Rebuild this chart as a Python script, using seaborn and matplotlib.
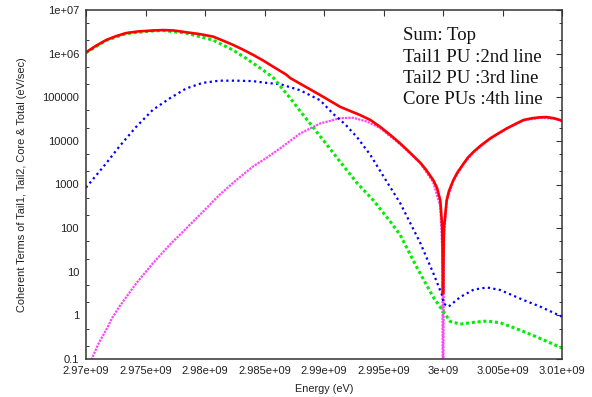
import numpy as np
import pandas as pd
import matplotlib
matplotlib.use("Agg")
import matplotlib.pyplot as plt
import matplotlib.ticker as mticker
import seaborn as sns

# ---------------- data ----------------
# energy offsets in MeV above 2.97e9 eV, values as log10(eV/sec)
sum_off = [0, 0.84, 1.68, 2.52, 3.36, 4.40, 5.63, 6.48, 7.40, 8.41, 9.50, 10.68, 11.50, 12.36,
           13.20, 14.05, 14.90, 15.73, 16.82, 17.16, 18.0, 19.68, 21.36, 23.05, 23.89, 24.73,
           25.60, 26.41, 27.0, 28.09, 28.60, 29.18, 29.50, 29.77, 29.94, 30.0,
           30.08, 30.31, 30.50, 30.87, 31.20, 31.73, 32.10, 32.57, 33.20, 33.98, 34.70, 35.38,
           36.10, 36.78, 37.50, 38.18, 38.70, 39.30, 39.70, 40.0]
sum_log = [6.03, 6.18, 6.31, 6.40, 6.47, 6.51, 6.53, 6.54, 6.53, 6.49, 6.45, 6.39, 6.30, 6.20,
           6.09, 5.97, 5.84, 5.70, 5.52, 5.44, 5.31, 5.05, 4.78, 4.59, 4.48, 4.32,
           4.13, 3.94, 3.79, 3.50, 3.33, 3.10, 2.92, 2.64, 2.0, 0.5,
           2.0, 2.64, 2.85, 3.10, 3.27, 3.48, 3.62, 3.75, 3.90, 4.06, 4.18, 4.29,
           4.39, 4.48, 4.52, 4.54, 4.545, 4.52, 4.49, 4.46]

tail2_off = [0, 1.68, 3.36, 5.63, 6.48, 8.41, 10.68, 12.36, 13.46, 14.89, 15.73, 17.16, 18.0,
             19.93, 21.36, 22.79, 24.14, 25.57, 26.41, 27.84, 29.18, 29.94, 30.61, 31.45,
             32.57, 33.70, 34.82, 36.50, 38.18, 40.0]
tail2_log = [6.02, 6.30, 6.46, 6.52, 6.53, 6.47, 6.31, 6.08, 5.89, 5.62, 5.45, 4.98, 4.68,
             4.02, 3.52, 3.03, 2.64, 2.15, 1.84, 1.08, 0.42, 0.12, -0.14, -0.20,
             -0.16, -0.13, -0.17, -0.34, -0.53, -0.75]

tail1_off = [0, 1.68, 2.80, 4.21, 5.61, 7.01, 8.41, 9.81, 11.21, 12.62, 14.02, 15.14, 16.32,
             18.0, 19.68, 20.77, 21.78, 22.79, 23.89, 25.15, 26.41, 28.09, 29.18, 29.94,
             30.05, 30.47, 31.45, 32.57, 33.70, 34.82, 36.78, 38.18, 40.0]
tail1_log = [2.93, 3.48, 3.87, 4.32, 4.71, 4.97, 5.20, 5.33, 5.38, 5.38, 5.37, 5.33, 5.30,
             5.16, 4.93, 4.62, 4.38, 4.08, 3.68, 3.12, 2.57, 1.66, 0.97, 0.45,
             0.27, 0.20, 0.42, 0.59, 0.64, 0.58, 0.35, 0.20, -0.03]

core_off = [0, 0.56, 1.10, 1.68, 2.20, 2.80, 4.21, 5.61, 7.01, 8.41, 9.81, 11.21, 12.62, 14.02,
            15.22, 16.32, 18.0, 19.68, 21.36, 22.46, 23.63, 24.73, 26.41, 28.09, 29.18, 29.77,
            29.94, 30.0, 30.08, 30.31, 30.87, 31.73, 32.57, 33.98, 35.38, 36.78, 38.18,
            39.30, 40.0]
core_log = [-1.3, -0.95, -0.62, -0.34, -0.06, 0.20, 0.73, 1.19, 1.61, 1.99, 2.37, 2.76, 3.10,
            3.41, 3.62, 3.83, 4.17, 4.40, 4.52, 4.53, 4.44, 4.29, 3.92, 3.49, 3.05, 2.5,
            1.5, -3.0, 1.8, 2.62, 3.09, 3.47, 3.74, 4.05, 4.28, 4.47, 4.53,
            4.51, 4.45]

x_ticks = [2.97e9, 2.975e9, 2.98e9, 2.985e9, 2.99e9, 2.995e9, 3.0e9, 3.005e9, 3.01e9]
x_tick_labels = ["2.97e+09", "2.975e+09", "2.98e+09", "2.985e+09", "2.99e+09",
                 "2.995e+09", "3e+09", "3.005e+09", "3.01e+09"]
y_ticks = [0.1, 1, 10, 100, 1000, 1e4, 1e5, 1e6, 1e7]
y_tick_labels = ["0.1", "1", "10", "100", "1000", "10000", "100000", "1e+06", "1e+07"]

annotation_lines = ["Sum: Top", "Tail1 PU :2nd line", "Tail2 PU :3rd line", "Core PUs :4th line"]

E0 = 2.97e9


def frame(off, lg):
    return pd.DataFrame({"E": E0 + np.asarray(off) * 1e6,
                         "v": np.power(10.0, np.asarray(lg))})


sns.set_theme(style="white")
plt.rcParams["font.family"] = ["Liberation Sans", "DejaVu Sans"]

fig = plt.figure(figsize=(5.92, 3.97), dpi=100)
ax = fig.add_axes([86 / 592, 38 / 397, 476 / 592, 349 / 397])

# draw order: core, tail1, tail2, sum on top
sns.lineplot(data=frame(core_off, core_log), x="E", y="v", ax=ax, sort=False,
             color="#ff44ff", linewidth=1.6, estimator=None)
ax.lines[-1].set_dashes([1.0, 0.5])
sns.lineplot(data=frame(tail1_off, tail1_log), x="E", y="v", ax=ax, sort=False,
             color="#0000ff", linewidth=1.6, estimator=None)
ax.lines[-1].set_dashes([1.0, 1.5])
sns.lineplot(data=frame(tail2_off, tail2_log), x="E", y="v", ax=ax, sort=False,
             color="#00ee00", linewidth=2.2, estimator=None)
ax.lines[-1].set_dashes([1.0, 0.9])
sns.lineplot(data=frame(sum_off, sum_log), x="E", y="v", ax=ax, sort=False,
             color="#ff0000", linewidth=1.9, estimator=None)
for ln in ax.lines:
    ln.set_dash_capstyle("butt")
    ln.set_solid_joinstyle("round")

ax.set_yscale("log")
ax.set_xlim(2.97e9, 3.01e9)
ax.set_ylim(0.1, 1e7)
ax.set_xticks(x_ticks)
ax.set_xticklabels(x_tick_labels)
ax.set_yticks(y_ticks)
ax.set_yticklabels(y_tick_labels)
ax.yaxis.set_minor_locator(mticker.LogLocator(base=10, subs=[2.0, 5.0], numticks=20))
ax.yaxis.set_minor_formatter(mticker.NullFormatter())

ax.tick_params(axis="both", which="major", direction="in", length=4.5, width=0.8,
               color="#333333", labelsize=8, pad=5, top=True, right=True,
               labelcolor="#222222")
ax.tick_params(axis="y", which="minor", direction="in", length=2.5, width=0.7,
               color="#333333", left=True, right=True)
for sp in ax.spines.values():
    sp.set_color("#333333")
    sp.set_linewidth(1.1)

ax.set_xlabel("Energy (eV)", fontsize=7.8, labelpad=6, color="#222222")
ax.set_ylabel("Coherent Terms of Tail1, Tail2, Core & Total (eV/sec)", fontsize=7.9,
              labelpad=11, color="#222222")

ys = [0.926, 0.863, 0.803, 0.743]
for txt, yy in zip(annotation_lines, ys):
    ax.text(0.666, yy, txt, transform=ax.transAxes, fontsize=13.5,
            family=["Liberation Serif", "DejaVu Serif"], va="center", ha="left",
            color="#111111")

fig.savefig("out.png", dpi=100, facecolor="white")
